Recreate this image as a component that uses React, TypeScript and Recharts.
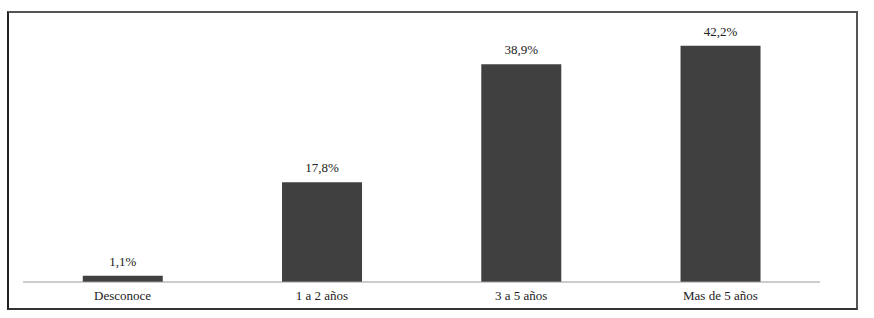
import React from 'react';
import { BarChart, Bar, XAxis, YAxis, LabelList } from 'recharts';

const categories = ['Desconoce', '1 a 2 años', '3 a 5 años', 'Mas de 5 años'];
const values = [1.1, 17.8, 38.9, 42.2];
const labels = ['1,1%', '17,8%', '38,9%', '42,2%'];

const data = categories.map((name, i) => ({ name, value: values[i], label: labels[i] }));

const FONT = "'Liberation Serif', 'DejaVu Serif', serif";

export default function App() {
	return (
		<div
			style={{
				position: 'absolute',
				left: 0,
				top: 0,
				width: 874,
				height: 318,
				background: '#fff',
				fontFamily: FONT,
			}}
		>
			<div
				style={{
					position: 'absolute',
					left: 7,
					top: 11,
					width: 851,
					height: 299,
					boxSizing: 'border-box',
					borderTop: '2px solid #555',
					borderLeft: '2px solid #222',
					borderRight: '2px solid #555',
					borderBottom: '2px solid #333',
				}}
			/>
			<div style={{ position: 'absolute', left: 0, top: 0 }}>
				<BarChart
					width={874}
					height={318}
					data={data}
					margin={{ top: 30, right: 54, left: 23, bottom: 6 }}
					barCategoryGap="30%"
					style={{ fontFamily: FONT }}
				>
					<YAxis hide domain={[0, 45]} />
					<XAxis
						dataKey="name"
						height={30}
						tickLine={false}
						tickSize={0}
						tickMargin={9}
						axisLine={{ stroke: '#999', strokeWidth: 1 }}
						tick={{ fill: '#222', fontSize: 13, style: { fontFamily: FONT } }}
					/>
					<Bar dataKey="value" fill="#404040" isAnimationActive={false}>
						<LabelList
							dataKey="label"
							position="top"
							offset={10}
							fill="#222"
							fontSize={13}
							style={{ fontFamily: FONT }}
						/>
					</Bar>
				</BarChart>
			</div>
		</div>
	);
}
